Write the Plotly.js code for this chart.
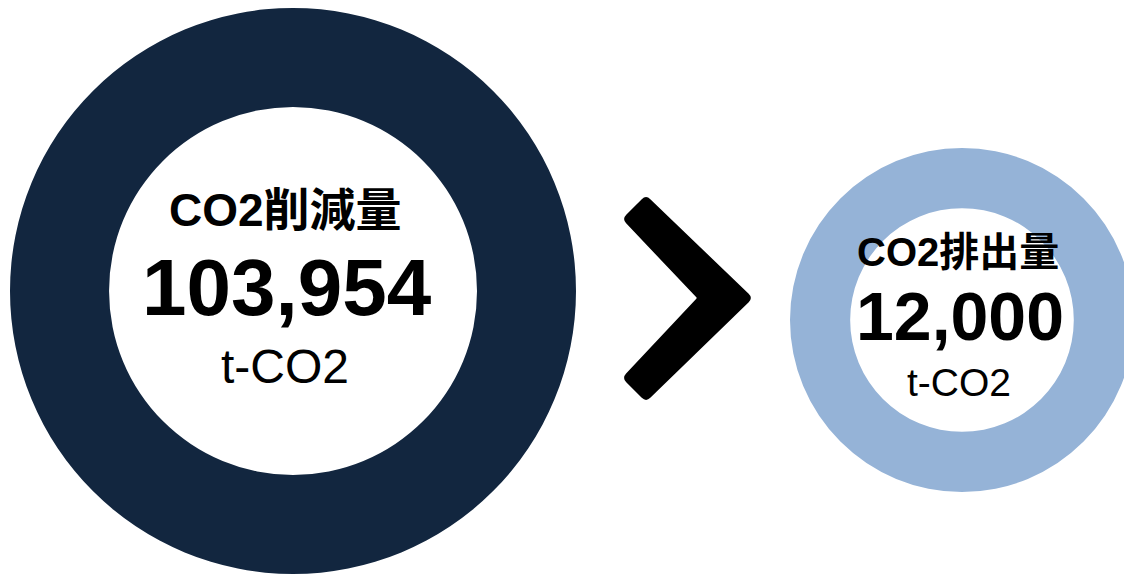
<!DOCTYPE html>
<html>
<head>
<meta charset="utf-8">
<script src="https://cdn.plot.ly/plotly-3.0.1.min.js"></script>
<style>
  html, body { margin: 0; padding: 0; overflow: hidden; background: #ffffff; }
  #chart { width: 1144px; height: 574px; }
</style>
</head>
<body>
<div id="chart"></div>
<script>
// ---- data ----
const categories = ['CO2削減量', 'CO2排出量'];
const values = [103954, 12000];
const unitLabel = 't-CO2';
const colors = ['#12263F', '#95B3D7'];

// ---- layout helpers ----
const W = 1144, H = 574;
function px(x) { return x / W; }
function py(y) { return 1 - y / H; }
function P(x, y) { return px(x).toFixed(5) + ',' + py(y).toFixed(5); }

function roundedPath(pts, rs) {
  let d = '';
  const n = pts.length;
  for (let i = 0; i < n; i++) {
    const cur = pts[i], prev = pts[(i - 1 + n) % n], next = pts[(i + 1) % n];
    const r = rs[i];
    const dp = [prev[0] - cur[0], prev[1] - cur[1]];
    const dn = [next[0] - cur[0], next[1] - cur[1]];
    const lp = Math.hypot(dp[0], dp[1]), ln = Math.hypot(dn[0], dn[1]);
    const p1 = [cur[0] + dp[0] / lp * r, cur[1] + dp[1] / lp * r];
    const p2 = [cur[0] + dn[0] / ln * r, cur[1] + dn[1] / ln * r];
    d += (i === 0 ? 'M' : 'L') + P(p1[0], p1[1]) + ' Q' + P(cur[0], cur[1]) + ' ' + P(p2[0], p2[1]) + ' ';
  }
  return d + 'Z';
}

// donut geometry (pixels): centre and outer radius
const donuts = [
  { cx: 293, cy: 291, R: 283, hole: 0.65 },
  { cx: 962, cy: 320, R: 172, hole: 0.65 }
];

const traces = categories.map((c, i) => {
  const g = donuts[i];
  return {
    type: 'pie',
    labels: [c],
    values: [values[i]],
    hole: g.hole,
    sort: false,
    textinfo: 'none',
    hoverinfo: 'skip',
    showlegend: false,
    marker: { colors: [colors[i]], line: { width: 0 } },
    domain: {
      x: [px(g.cx - g.R), px(g.cx + g.R)],
      y: [py(g.cy + g.R), py(g.cy - g.R)]
    }
  };
});

const latin = 'Liberation Sans, Arial, Noto Sans CJK JP, sans-serif';
const textSpec = [
  { title: { x: 285, y: 210, size: 46 }, num: { x: 287, y: 287, size: 80 }, unit: { x: 285, y: 366, size: 48 } },
  { title: { x: 958, y: 252, size: 40 }, num: { x: 960, y: 316, size: 68 }, unit: { x: 959, y: 382, size: 39 } }
];

const annotations = [];
categories.forEach((c, i) => {
  const s = textSpec[i];
  annotations.push({
    xref: 'paper', yref: 'paper', x: px(s.title.x), y: py(s.title.y),
    xanchor: 'center', yanchor: 'middle', showarrow: false,
    text: '<b>' + c + '</b>',
    font: { family: latin, size: s.title.size, color: '#000000' }
  });
  annotations.push({
    xref: 'paper', yref: 'paper', x: px(s.num.x), y: py(s.num.y),
    xanchor: 'center', yanchor: 'middle', showarrow: false,
    text: '<b>' + values[i].toLocaleString('en-US') + '</b>',
    font: { family: latin, size: s.num.size, color: '#000000' }
  });
  annotations.push({
    xref: 'paper', yref: 'paper', x: px(s.unit.x), y: py(s.unit.y),
    xanchor: 'center', yanchor: 'middle', showarrow: false,
    text: unitLabel,
    font: { family: latin, size: s.unit.size, color: '#000000' }
  });
});

// chevron ">" between the donuts
const chevronPts = [[646, 195], [753, 298], [646, 402], [622, 378], [697, 298], [622, 219]];
const chevronR = [6, 6, 6, 6, 1, 6];

const layout = {
  width: W, height: H,
  margin: { l: 0, r: 0, t: 0, b: 0, pad: 0 },
  paper_bgcolor: '#ffffff',
  plot_bgcolor: '#ffffff',
  showlegend: false,
  annotations: annotations,
  shapes: [{
    type: 'path', xref: 'paper', yref: 'paper',
    path: roundedPath(chevronPts, chevronR),
    fillcolor: '#000000',
    line: { width: 0 }
  }]
};

Plotly.newPlot('chart', traces, layout, { staticPlot: true, displayModeBar: false });
</script>
</body>
</html>
